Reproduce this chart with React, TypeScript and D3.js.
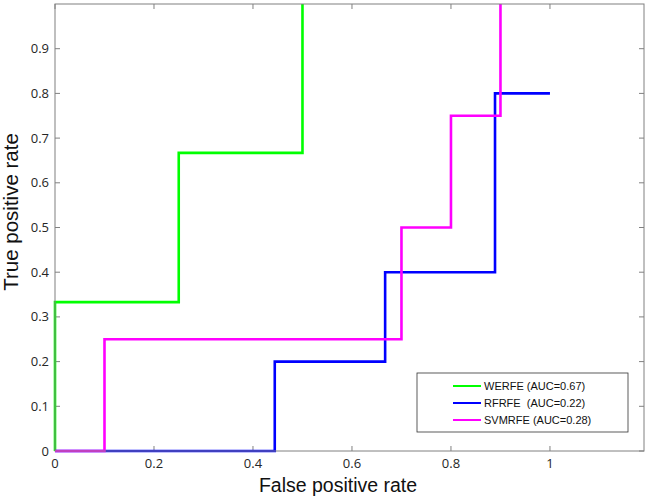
import React from "react";
import * as d3 from "d3";

const xTicks = [0, 0.2, 0.4, 0.6, 0.8, 1];
const yTicks = [0, 0.1, 0.2, 0.3, 0.4, 0.5, 0.6, 0.7, 0.8, 0.9];

const werfeFpr = [0, 0, 0.25, 0.25, 0.5, 0.5];
const werfeTpr = [0, 0.333, 0.333, 0.667, 0.667, 1];
const rfrfeFpr = [0, 0.444, 0.444, 0.667, 0.667, 0.889, 0.889, 1];
const rfrfeTpr = [0, 0, 0.2, 0.2, 0.4, 0.4, 0.8, 0.8];
const svmFpr = [0, 0.1, 0.1, 0.7, 0.7, 0.8, 0.8, 0.9, 0.9];
const svmTpr = [0, 0, 0.25, 0.25, 0.5, 0.5, 0.75, 0.75, 1];

const seriesNames = ["WERFE (AUC=0.67)", "RFRFE  (AUC=0.22)", "SVMRFE (AUC=0.28)"];
const seriesColors = ["#00ff00", "#0000ff", "#ff00ff"];

export default function App() {
  const W = 653, H = 499;
  const left = 55, right = 644, top = 4, bottom = 451;
  const x = d3.scaleLinear().domain([0, 1.19]).range([left, right]);
  const y = d3.scaleLinear().domain([0, 1]).range([bottom, top]);
  const line = d3.line<[number, number]>().x(d => x(d[0])).y(d => y(d[1]));
  const series = [
    werfeFpr.map((v, i) => [v, werfeTpr[i]] as [number, number]),
    rfrfeFpr.map((v, i) => [v, rfrfeTpr[i]] as [number, number]),
    svmFpr.map((v, i) => [v, svmTpr[i]] as [number, number]),
  ];
  const axisColor = "#808080";
  const textColor = "#262626";
  const tickLen = 5;
  const font = "'Open Sans', 'DejaVu Sans', sans-serif";
  const labelFont = "'Liberation Sans', Arial, sans-serif";
  const legX = 417, legY = 373, legW = 211, legH = 59;
  return (
    <svg width={W} height={H} style={{ position: "absolute", left: 0, top: 0, background: "#fff" }}>
      <rect x={0} y={0} width={W} height={H} fill="#fff" />
      <defs>
        <clipPath id="plotclip">
          <rect x={left - 2} y={top} width={right - left + 4} height={bottom - top + 2} />
        </clipPath>
      </defs>
      {xTicks.map(t => (
        <g key={"x" + t}>
          <line x1={x(t)} x2={x(t)} y1={bottom} y2={bottom - tickLen} stroke={axisColor} strokeWidth={1} />
          <line x1={x(t)} x2={x(t)} y1={top} y2={top + tickLen} stroke={axisColor} strokeWidth={1} />
          <text x={x(t)} y={bottom + 17} textAnchor="middle" fontSize={13} fontFamily={font} fill={textColor}>{t}</text>
        </g>
      ))}
      {yTicks.map(t => (
        <g key={"y" + t}>
          <line x1={left} x2={left + tickLen} y1={y(t)} y2={y(t)} stroke={axisColor} strokeWidth={1} />
          <line x1={right} x2={right - tickLen} y1={y(t)} y2={y(t)} stroke={axisColor} strokeWidth={1} />
          <text x={left - 6} y={y(t) + 4.5} textAnchor="end" fontSize={13} fontFamily={font} fill={textColor}>{t}</text>
        </g>
      ))}
      <g clipPath="url(#plotclip)">
        {series.map((s, i) => (
          <path key={i} d={line(s) || ""} fill="none" stroke={seriesColors[i]} strokeWidth={2.6} />
        ))}
      </g>
      <rect x={left} y={top} width={right - left} height={bottom - top} fill="none" stroke={axisColor} strokeWidth={1} />
      <rect x={legX} y={legY} width={legW} height={legH} fill="#fff" stroke={"#333"} strokeWidth={0.8} />
      {seriesNames.map((n, i) => (
        <g key={n}>
          <line x1={453} x2={481} y1={386 + i * 17} y2={386 + i * 17} stroke={seriesColors[i]} strokeWidth={2} />
          <text x={484} y={386 + i * 17 + 4} fontSize={11} fontFamily={labelFont} fill="#111" style={{ whiteSpace: "pre" }}>{n}</text>
        </g>
      ))}
      <text x={338} y={492} textAnchor="middle" fontSize={19.5} fontFamily={labelFont} fill="#111">False positive rate</text>
      <text transform={`translate(18, 212) rotate(-90)`} textAnchor="middle" fontSize={20.5} fontFamily={labelFont} fill="#111">True positive rate</text>
    </svg>
  );
}
